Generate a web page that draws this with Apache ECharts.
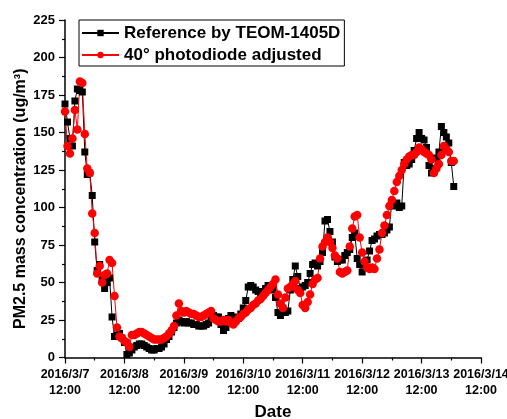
<!DOCTYPE html>
<html>
<head>
<meta charset="utf-8">
<script src="https://cdn.jsdelivr.net/npm/echarts@6/dist/echarts.min.js"></script>
<style>
  html, body { margin: 0; padding: 0; background: #fff; }
  #chart { width: 507px; height: 419px; }
</style>
</head>
<body>
<div id="chart"></div>
<script>
// Hourly PM2.5 readings, first sample at 2016/3/7 12:00 (x = hours since then)
const tickLabels = [
  '2016/3/7\n12:00', '2016/3/8\n12:00', '2016/3/9\n12:00', '2016/3/10\n12:00',
  '2016/3/11\n12:00', '2016/3/12\n12:00', '2016/3/13\n12:00', '2016/3/14\n12:00'
];

const teom = [
  169, 157, 146, 141, 171, 179, 178, 177, 137, 122,
  123, 108, 77, 58, 62, 52, 46, 50, 53, 27,
  14, 15, 16, 13, 10, 2, 3, 5, 7, 8,
  9, 9, 8, 7, 6, 5, 5, 6, 6, 7,
  9, 12, 14, 17, 20, 23, 25, 24, 23, 24,
  23, 23, 22, 22, 21, 21, 21, 22, 23, 26,
  28, 27, 27, 22, 18, 20, 26, 28, 27, 26,
  26, 29, 33, 38, 47, 48, 47, 45, 44, 42,
  44, 46, 48, 48, 45, 40, 30, 28, 33, 30,
  31, 45, 52, 61, 54, 46, 47, 48, 50, 56,
  62, 63, 61, 64, 70, 91, 92, 84, 77, 67,
  64, 65, 65, 68, 70, 72, 80, 83, 66, 62,
  57, 63, 65, 71, 78, 79, 81, 82, 82, 83,
  85, 87, 104, 101, 103, 100, 101, 130, 128, 129,
  132, 138, 146, 150, 146, 145, 140, 128, 123, 126,
  133, 137, 154, 150, 147, 143, 130, 114
];

const photodiode = [
  164, 141, 136, 146, 165, 152, 184, 183, 149, 126,
  123, 96, 83, 56, 61, 50, 55, 56, 65, 63,
  41, 20, 14, 13, 11, 10, 7, 15, 15, 16,
  17, 17, 16, 15, 14, 13, 12, 12, 12, 12,
  13, 14, 16, 18, 21, 28, 36, 31, 30, 31,
  30, 29, 29, 28, 27, 27, 28, 29, 30, 31,
  26, 25, 24, 24, 25, 24, 25, 23, 22, 24,
  26, 27, 29, 30, 32, 33, 35, 36, 38, 39,
  41, 43, 45, 47, 49, 52, 42, 36, 33, 40,
  46, 47, 49, 51, 45, 43, 35, 33, 37, 42,
  49, 52, 53, 66, 74, 77, 80, 77, 73, 68,
  66, 57, 56, 57, 58, 74, 86, 94, 95, 80,
  70, 64, 60, 59, 60, 59, 66, 72, 83, 88,
  95, 101, 105, 111, 117, 121, 125, 129, 132, 134,
  135, 135, 137, 140, 139, 137, 136, 135, 132, 123,
  126, 129, 135, 141, 139, 137, 131, 131
];

const seriesNames = ['Reference by TEOM-1405D', '40\u00b0 photodiode adjusted'];

const toPoints = arr => arr.map((v, h) => [h, v]);

const FONT = '"Liberation Sans", Arial, sans-serif';

const chart = echarts.init(document.getElementById('chart'), null, { renderer: 'canvas' });

chart.setOption({
  animation: false,
  backgroundColor: '#ffffff',
  textStyle: { fontFamily: FONT },
  grid: { left: 65, right: 26, top: 20, bottom: 61.5, containLabel: false, outerBoundsMode: 'none' },
  legend: {
    orient: 'vertical',
    left: 79,
    top: 20,
    padding: [3, 4, 1, 2],
    itemGap: 2,
    itemWidth: 37,
    itemHeight: 8,
    itemTextGap: 6,
    borderColor: '#000',
    borderWidth: 1,
    textStyle: { fontFamily: FONT, fontWeight: 'bold', fontSize: 17, color: '#000', lineHeight: 20 },
    data: seriesNames
  },
  xAxis: {
    type: 'value',
    min: 0,
    max: 168,
    interval: 24,
    name: 'Date',
    nameLocation: 'middle',
    nameGap: 46,
    nameMoveOverlap: false,
    nameTextStyle: { fontFamily: FONT, fontWeight: 'bold', fontSize: 17, color: '#000' },
    axisLine: { show: true, onZero: false, lineStyle: { color: '#000', width: 1.5 } },
    axisTick: { show: true, inside: false, length: 6, lineStyle: { color: '#000', width: 1.2 } },
    minorTick: { show: true, splitNumber: 2, length: 3, lineStyle: { color: '#000', width: 1.2 } },
    splitLine: { show: false },
    axisLabel: {
      margin: 9,
      fontFamily: FONT,
      fontWeight: 'bold',
      fontSize: 12.5,
      lineHeight: 16,
      color: '#000',
      formatter: v => tickLabels[Math.round(v / 24)]
    }
  },
  yAxis: {
    type: 'value',
    min: 0,
    max: 225,
    interval: 25,
    name: 'PM2.5 mass concentration (ug/m\u00b3)',
    nameLocation: 'middle',
    nameGap: 36,
    nameMoveOverlap: false,
    nameTextStyle: {
      fontFamily: FONT, fontWeight: 'bold', fontSize: 16, color: '#000',
      padding: [0, 20, 0, 0]
    },
    axisLine: { show: true, onZero: false, lineStyle: { color: '#000', width: 1.5 } },
    axisTick: { show: true, inside: false, length: 6, lineStyle: { color: '#000', width: 1.2 } },
    minorTick: { show: true, splitNumber: 2, length: 3, lineStyle: { color: '#000', width: 1.2 } },
    splitLine: { show: false },
    axisLabel: {
      margin: 10,
      fontFamily: FONT,
      fontWeight: 'bold',
      fontSize: 13,
      color: '#000'
    }
  },
  series: [
    {
      name: seriesNames[0],
      type: 'line',
      data: toPoints(teom),
      symbol: 'rect',
      symbolSize: 7,
      showAllSymbol: true,
      lineStyle: { color: '#000', width: 1 },
      itemStyle: { color: '#000' },
      emphasis: { disabled: true }
    },
    {
      name: seriesNames[1],
      type: 'line',
      data: toPoints(photodiode),
      symbol: 'circle',
      symbolSize: 8.5,
      showAllSymbol: true,
      lineStyle: { color: '#ff0000', width: 1 },
      itemStyle: { color: '#ff0000' },
      emphasis: { disabled: true }
    }
  ]
});
</script>
</body>
</html>
